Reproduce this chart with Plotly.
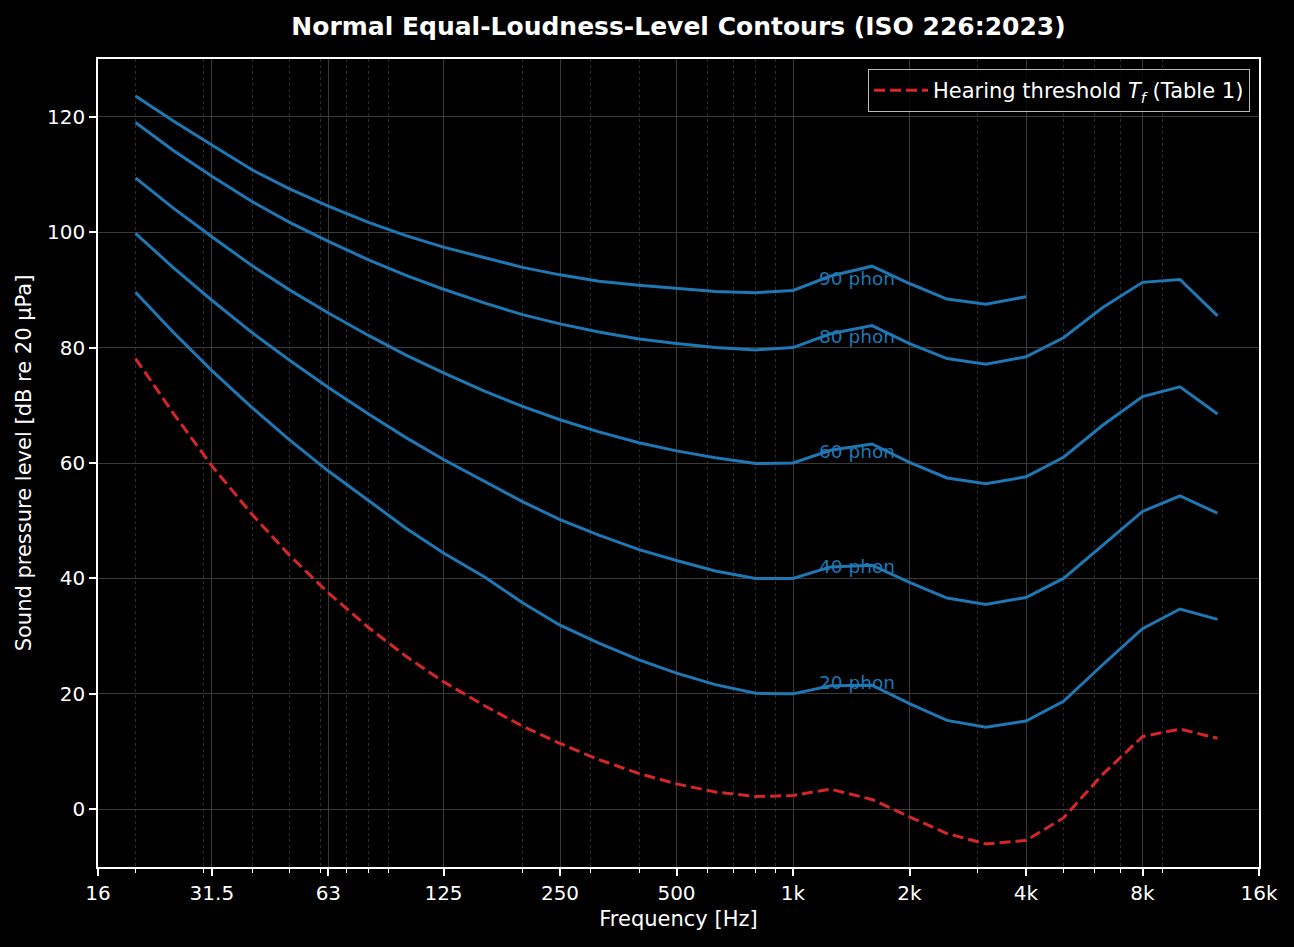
import numpy as np
import plotly.graph_objects as go

# ---------------- data ----------------
FREQ = [20, 25, 31.5, 40, 50, 63, 80, 100, 125, 160, 200, 250, 315, 400, 500,
        630, 800, 1000, 1250, 1600, 2000, 2500, 3150, 4000, 5000, 6300, 8000,
        10000, 12500]

THRESHOLD = [78.1, 68.7, 59.5, 51.1, 44.0, 37.5, 31.5, 26.5, 22.1, 17.9, 14.4,
             11.4, 8.6, 6.2, 4.4, 3.0, 2.2, 2.4, 3.5, 1.7, -1.3, -4.2, -6.0,
             -5.4, -1.5, 6.0, 12.6, 13.9, 12.3]

PHON_20 = [89.6, 82.7, 76.0, 69.6, 64.0, 58.6, 53.5, 48.7, 44.4, 40.2, 35.8,
           31.9, 28.8, 25.9, 23.6, 21.6, 20.1, 20.0, 21.4, 21.5, 18.3, 15.4,
           14.2, 15.3, 18.7, 25.0, 31.3, 34.7, 32.9]

PHON_40 = [99.8, 93.9, 88.2, 82.6, 77.8, 73.1, 68.5, 64.4, 60.6, 56.8, 53.3,
           50.2, 47.5, 45.0, 43.1, 41.3, 40.0, 40.0, 42.0, 42.3, 39.3, 36.6,
           35.5, 36.7, 40.0, 45.7, 51.6, 54.3, 51.3]

PHON_60 = [109.4, 104.2, 99.2, 94.2, 90.0, 86.0, 82.1, 78.7, 75.6, 72.4, 69.8,
           67.5, 65.4, 63.5, 62.1, 60.9, 59.9, 60.0, 62.2, 63.3, 60.1, 57.4,
           56.4, 57.6, 61.0, 66.5, 71.5, 73.2, 68.5]

PHON_80 = [119.0, 114.2, 109.7, 105.3, 101.7, 98.4, 95.2, 92.5, 90.1, 87.7,
           85.7, 84.1, 82.7, 81.5, 80.7, 80.0, 79.6, 80.0, 82.4, 83.8, 80.7,
           78.1, 77.1, 78.4, 81.7, 86.9, 91.3, 91.8, 85.5]

PHON_90 = [123.6, 119.3, 115.1, 110.8, 107.5, 104.5, 101.7, 99.4, 97.4, 95.5,
           93.9, 92.6, 91.5, 90.8, 90.2, 89.7, 89.5, 89.9, 92.4, 94.1, 91.1,
           88.4, 87.5, 88.8, None, None, None, None, None]

PHON_LEVELS = [20, 40, 60, 80, 90]
CONTOURS = [PHON_20, PHON_40, PHON_60, PHON_80, PHON_90]

X_TICKS = [16, 31.5, 63, 125, 250, 500, 1000, 2000, 4000, 8000, 16000]
X_TICK_LABELS = ["16", "31.5", "63", "125", "250", "500", "1k", "2k", "4k", "8k", "16k"]
Y_TICKS = [0, 20, 40, 60, 80, 100, 120]

# ---------------- style ----------------
BLUE = "#1f77b4"
RED = "#d62728"
FONT = "DejaVu Sans"
LABEL_FREQ = 1150
LABEL_OFFSET = 2.0

W, H = 1294, 947
ML, MR, MT, MB = 98, 35, 59, 80

minor_vals = []
for dec in [10, 100, 1000]:
    for m in range(2, 10):
        v = dec * m
        if v not in X_TICKS and 16 < v < 16000:
            minor_vals.append(v)

fig = go.Figure()

for lvl, vals in zip(PHON_LEVELS, CONTOURS):
    fig.add_trace(go.Scatter(
        x=FREQ, y=vals, mode="lines", connectgaps=False,
        line=dict(color=BLUE, width=3), showlegend=False,
        name=f"{lvl} phon", hoverinfo="skip"))

fig.add_trace(go.Scatter(
    x=FREQ, y=THRESHOLD, mode="lines",
    line=dict(color=RED, width=3, dash="11px,5px"),
    name="Hearing threshold <i>T</i><sub><i>f</i></sub> (Table 1)",
    showlegend=True, hoverinfo="skip"))

for lvl in PHON_LEVELS:
    fig.add_annotation(
        x=np.log10(LABEL_FREQ), y=lvl + LABEL_OFFSET, xref="x", yref="y",
        text=f"{lvl} phon", showarrow=False, xanchor="left", yanchor="middle",
        font=dict(family=FONT, size=18.5, color=BLUE))

fig.update_layout(
    width=W, height=H,
    margin=dict(l=ML, r=MR, t=MT, b=MB, autoexpand=False),
    paper_bgcolor="black", plot_bgcolor="black",
    font=dict(family=FONT, size=20, color="white"),
    title=dict(text="<b>Normal Equal-Loudness-Level Contours (ISO 226:2023)</b>",
               x=(ML + (W - ML - MR) / 2) / W, xanchor="center",
               y=1 - 26 / H, yref="container", yanchor="middle",
               font=dict(family=FONT, size=25, color="white")),
    legend=dict(x=1 - 9 / (W - ML - MR), y=1 - 10 / (H - MT - MB),
                xanchor="right", yanchor="top",
                bgcolor="rgba(0,0,0,0.8)", bordercolor="#bbbbbb", borderwidth=1,
                font=dict(family=FONT, size=21, color="white"),
                itemwidth=54, tracegroupgap=0),
    showlegend=True,
)

fig.update_xaxes(
    type="log", range=[np.log10(16), np.log10(16000)],
    tickmode="array", tickvals=X_TICKS, ticktext=X_TICK_LABELS,
    ticks="outside", ticklen=7, tickwidth=1.5, tickcolor="white",
    tickfont=dict(family=FONT, size=20, color="white"),
    showline=True, linecolor="white", linewidth=1.5, mirror=True,
    showgrid=True, gridcolor="#3a3a3a", gridwidth=1.2,
    zeroline=False, automargin=False,
    minor=dict(tickmode="array", tickvals=minor_vals, ticks="outside",
               ticklen=4, tickwidth=1.2, tickcolor="white",
               showgrid=True, gridcolor="#2c2c2c", griddash="dot", gridwidth=1),
    title=dict(text="Frequency [Hz]", standoff=8,
               font=dict(family=FONT, size=21, color="white")),
)

fig.update_yaxes(
    range=[-10, 130], tickmode="array", tickvals=Y_TICKS,
    ticks="outside", ticklen=7, tickwidth=1.5, tickcolor="white",
    tickfont=dict(family=FONT, size=20, color="white"),
    showline=True, linecolor="white", linewidth=1.5, mirror=True,
    showgrid=True, gridcolor="#3a3a3a", gridwidth=1.2,
    zeroline=False, automargin=False,
    title=dict(text="Sound pressure level [dB re 20 μPa]", standoff=10,
               font=dict(family=FONT, size=21, color="white")),
)

fig.write_html("out.html")
